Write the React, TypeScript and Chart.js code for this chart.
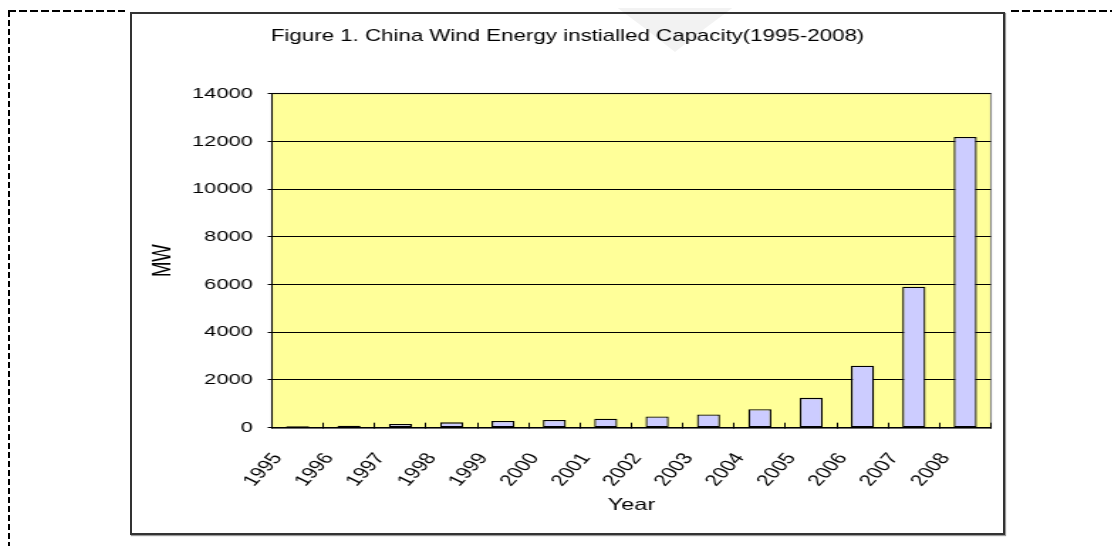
import React, { useEffect, useRef } from 'react';
import { Chart, registerables } from 'chart.js';

Chart.register(...registerables);

const years = ['1995', '1996', '1997', '1998', '1999', '2000', '2001', '2002', '2003', '2004', '2005', '2006', '2007', '2008'];
const capacityMW = [60, 85, 160, 225, 280, 320, 380, 470, 550, 770, 1250, 2600, 5910, 12180];
const yTickValues = [0, 2000, 4000, 6000, 8000, 10000, 12000, 14000];
const titleText = 'Figure 1. China Wind Energy instialled Capacity(1995-2008)';
const xAxisTitle = 'Year';
const yAxisTitle = 'MW';

const FONT = '"Liberation Sans", Arial, Helvetica, sans-serif';
const CANVAS_W = 613;
const CANVAS_H = 519;
const STRETCH = 871 / CANVAS_W;

const plotBackground = {
  id: 'plotBackground',
  beforeDraw(chart: any) {
    const { ctx, chartArea: a } = chart;
    ctx.save();
    ctx.fillStyle = '#FFFF99';
    ctx.fillRect(a.left, a.top, a.right - a.left, a.bottom - a.top);
    ctx.strokeStyle = '#8a8a8a';
    ctx.lineWidth = 1.2;
    ctx.strokeRect(a.left, a.top, a.right - a.left, a.bottom - a.top);
    ctx.restore();
  },
};

function WindChart() {
  const ref = useRef<HTMLCanvasElement | null>(null);
  useEffect(() => {
    if (!ref.current) return;
    const chart = new Chart(ref.current, {
      type: 'bar',
      data: {
        labels: years,
        datasets: [
          {
            data: capacityMW,
            backgroundColor: '#CCCCFF',
            borderColor: '#000000',
            borderWidth: 1.3,
            borderSkipped: false,
            barPercentage: 0.45,
            categoryPercentage: 1,
            yAxisID: 'y',
          },
        ],
      },
      options: {
        responsive: false,
        animation: false,
        devicePixelRatio: 1,
        layout: { padding: 0 },
        plugins: {
          legend: { display: false },
          tooltip: { enabled: false },
          title: {
            display: true,
            text: titleText,
            color: '#000',
            font: { family: FONT, size: 15.7, weight: 'normal' },
            padding: { top: 13.7, bottom: 47 },
          },
        },
        scales: {
          x: {
            grid: {
              display: true,
              drawOnChartArea: false,
              drawTicks: true,
              tickLength: -5,
              color: '#000',
              offset: true,
            },
            border: { display: true, color: '#000', width: 1.5 },
            ticks: {
              autoSkip: false,
              minRotation: 55,
              maxRotation: 55,
              labelOffset: -14,
              padding: 27,
              color: '#000',
              font: { family: FONT, size: 16 },
            },
            title: {
              display: true,
              text: xAxisTitle,
              color: '#000',
              font: { family: FONT, size: 16.5 },
              padding: { top: 0, bottom: 18 },
            },
            afterFit(scale: any) {
              scale.height = 105.3;
              scale.paddingLeft = 0;
              scale.paddingRight = 0;
            },
          },
          y: {
            min: 0,
            max: 14000,
            afterBuildTicks(scale: any) {
              scale.ticks = yTickValues.map((v) => ({ value: v }));
            },
            ticks: {
              padding: 10.6,
              color: '#000',
              font: { family: FONT, size: 15.3 },
              callback: (v: any) => String(v),
            },
            grid: { color: '#000', lineWidth: 1, tickLength: 3, drawTicks: true },
            border: { display: true, color: '#000', width: 1 },
            title: {
              display: true,
              text: yAxisTitle,
              color: '#000',
              font: { family: FONT, size: 18.5 },
              padding: { top: 10.8, bottom: 0 },
            },
            afterFit(scale: any) {
              scale.width = 98.5;
              scale.paddingTop = 0;
              scale.paddingBottom = 0;
            },
          },
          yRight: {
            position: 'right',
            display: true,
            grid: { display: false, drawTicks: false },
            border: { display: false },
            ticks: { display: false },
            afterFit(scale: any) {
              scale.width = 8.5;
              scale.paddingTop = 0;
              scale.paddingBottom = 0;
            },
          },
        },
      },
      plugins: [plotBackground],
    } as any);
    return () => chart.destroy();
  }, []);
  return <canvas ref={ref} width={CANVAS_W} height={CANVAS_H} style={{ display: 'block' }} />;
}

export default function App() {
  const dashH = 'repeating-linear-gradient(to right, #000 0 8px, transparent 8px 11px)';
  const dashV = 'repeating-linear-gradient(to bottom, #000 0 6px, transparent 6px 9px)';
  return (
    <div style={{ position: 'relative', width: 1104, height: 538 }}>
      <div style={{ position: 'absolute', left: 0, top: 3, width: 2, height: 543, background: dashV }} />
      <div style={{ position: 'absolute', left: 0, top: 2, width: 117, height: 2, background: dashH }} />
      <div style={{ position: 'absolute', left: 1003, top: 2, width: 109, height: 2, background: dashH }} />
      <div
        style={{
          position: 'absolute',
          left: 122,
          top: 4,
          width: 875,
          height: 523,
          boxSizing: 'border-box',
          border: '2px solid #333',
          boxShadow: '1px 1px 1px #999',
          background: '#fff',
          overflow: 'hidden',
        }}
      >
        <div style={{ width: CANVAS_W, height: CANVAS_H, transform: `scaleX(${STRETCH})`, transformOrigin: '0 0' }}>
          <WindChart />
        </div>
      </div>
      <div
        style={{
          position: 'absolute',
          left: 599,
          top: -8,
          width: 136,
          height: 52,
          background: 'rgba(0,0,0,0.05)',
          clipPath: 'polygon(0% 0%, 100% 0%, 72% 55%, 50% 100%, 28% 55%)',
          pointerEvents: 'none',
        }}
      />
    </div>
  );
}
